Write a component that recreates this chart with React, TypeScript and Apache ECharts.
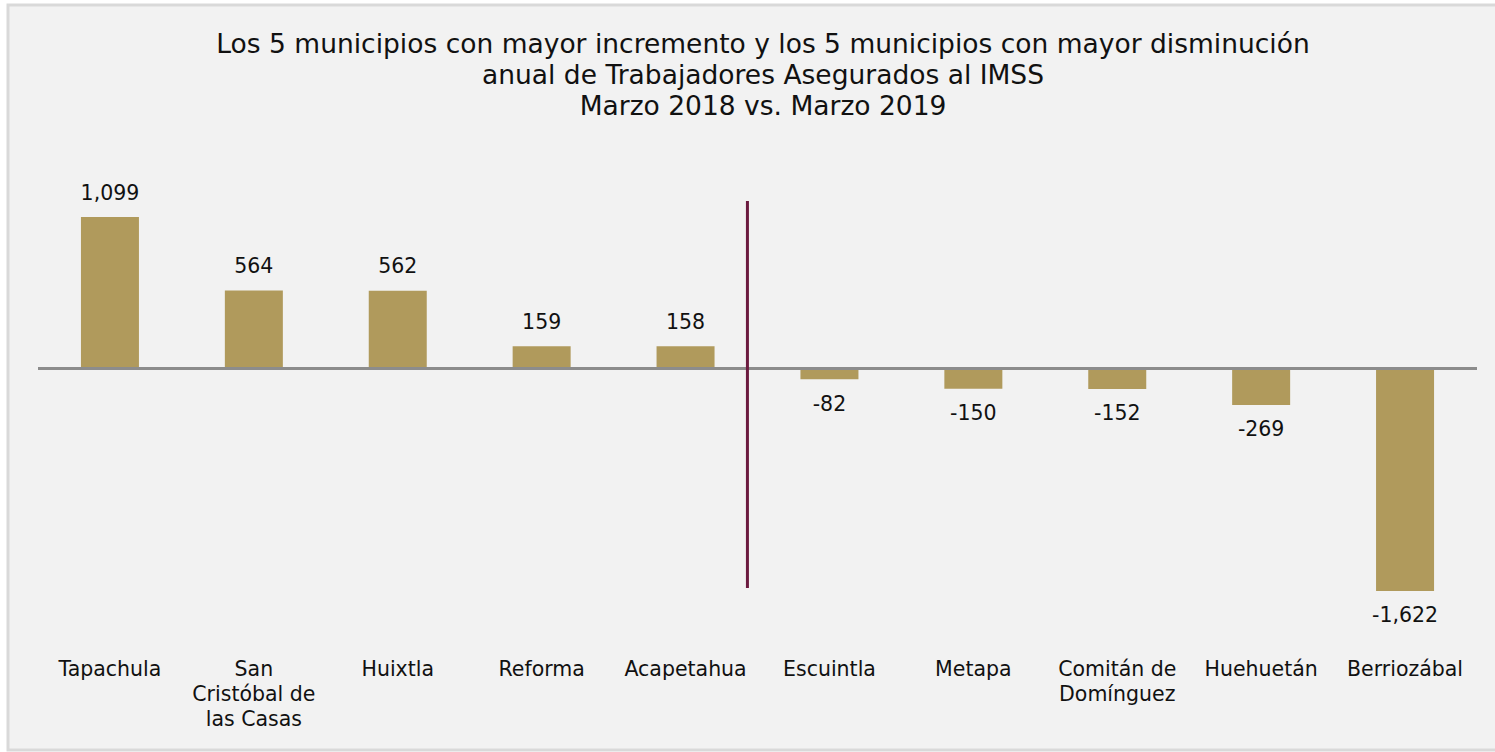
import React, { useEffect, useRef } from "react";
import * as echarts from "echarts";

const titleLines = [
  "Los 5 municipios con mayor incremento y los 5 municipios con mayor disminución",
  "anual de Trabajadores Asegurados al IMSS",
  "Marzo 2018 vs. Marzo 2019",
];
const categories = [
  "Tapachula",
  "San\nCristóbal de\nlas Casas",
  "Huixtla",
  "Reforma",
  "Acapetahua",
  "Escuintla",
  "Metapa",
  "Comitán de\nDomínguez",
  "Huehuetán",
  "Berriozábal",
];
const values = [1099, 564, 562, 159, 158, -82, -150, -152, -269, -1622];
const dividerRange = [1215, -1601];
const dividerPos = 4.43;

const FONT = "DejaVu Sans";

export default function App() {
  const ref = useRef<HTMLDivElement>(null);
  useEffect(() => {
    document.body.style.margin = "0";
    const chart = echarts.init(ref.current!, null, { renderer: "svg" });
    chart.setOption({
      animation: false,
      backgroundColor: "#ffffff",
      title: {
        text: titleLines.join("\n"),
        left: 758,
        top: 23,
        textAlign: "center",
        textStyle: {
          fontFamily: FONT,
          fontSize: 26.5,
          fontWeight: "normal",
          color: "#111111",
          lineHeight: 31,
        },
      },
      grid: { left: 38, right: 18, top: 189.4, bottom: 150.4 },
      xAxis: {
        type: "category",
        data: categories,
        axisLine: { show: false, onZero: false },
        axisTick: { show: false },
        axisLabel: {
          interval: 0,
          margin: 55,
          fontFamily: FONT,
          fontSize: 20.5,
          lineHeight: 25,
          color: "#111111",
          verticalAlign: "top",
        },
      },
      yAxis: {
        type: "value",
        min: -1700,
        max: 1300,
        show: false,
        splitLine: { show: false },
      },
      series: [
        {
          type: "bar",
          data: values,
          barWidth: 58,
          itemStyle: { color: "#b09a5c" },
          label: {
            show: true,
            position: "outside",
            distance: 14,
            fontFamily: FONT,
            fontSize: 20.5,
            color: "#111111",
            formatter: (p: any) => p.value.toLocaleString("en-US"),
          },
          markLine: {
            silent: true,
            symbol: "none",
            label: { show: false },
            lineStyle: { color: "#8c8c8c", width: 3, type: "solid" },
            data: [{ yAxis: 0 }],
          },
        },
      ],
    });
    const p4 = chart.convertToPixel({ xAxisIndex: 0 }, 4) as number;
    const p5 = chart.convertToPixel({ xAxisIndex: 0 }, 5) as number;
    const xm = p4 + (p5 - p4) * (dividerPos - 4);
    const y1 = chart.convertToPixel({ yAxisIndex: 0 }, dividerRange[0]) as number;
    const y2 = chart.convertToPixel({ yAxisIndex: 0 }, dividerRange[1]) as number;
    chart.setOption({
      graphic: [
        {
          type: "rect",
          shape: { x: 8, y: 5, width: 1495, height: 745 },
          style: { fill: "#f2f2f2", stroke: "#d9d9d9", lineWidth: 3 },
          z: -10,
          silent: true,
        },
        {
          type: "line",
          shape: { x1: xm, y1, x2: xm, y2 },
          style: { stroke: "#6b1a3f", lineWidth: 3 },
          z: 10,
          silent: true,
        },
      ],
    });
    return () => chart.dispose();
  }, []);
  return <div ref={ref} style={{ width: 1495, height: 752 }} />;
}
